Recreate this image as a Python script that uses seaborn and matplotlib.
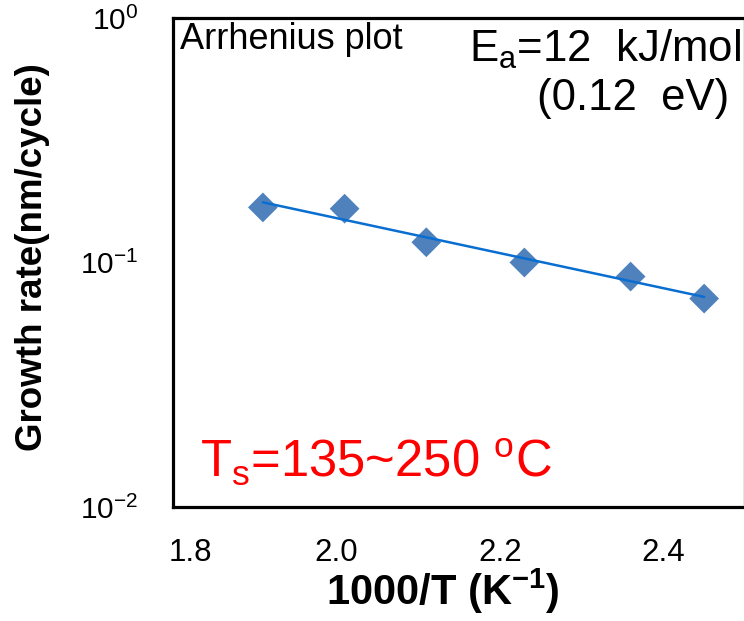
import numpy as np
import pandas as pd
import matplotlib
matplotlib.use("Agg")
import matplotlib.pyplot as plt
import matplotlib.transforms as mtransforms
import seaborn as sns
from matplotlib.ticker import NullLocator

# Growth rate vs reciprocal substrate temperature (Ts = 250 ... 135 C)
inv_temp = [1.91, 2.01, 2.11, 2.23, 2.36, 2.45]             # 1000/T (K^-1)
growth_rate = [0.168, 0.166, 0.121, 0.100, 0.0876, 0.0712]  # nm/cycle
x_ticks = [1.8, 2.0, 2.2, 2.4]
x_tick_labels = ["1.8", "2.0", "2.2", "2.4"]
y_ticks = [1e-2, 1e-1, 1e0]

sns.set_style("white")
plt.rcParams["font.family"] = ["Liberation Sans", "DejaVu Sans"]
plt.rcParams["mathtext.fontset"] = "custom"
plt.rcParams["mathtext.rm"] = "Liberation Sans"
plt.rcParams["mathtext.it"] = "Liberation Sans:italic"
plt.rcParams["mathtext.bf"] = "Liberation Sans:bold"
for key in ["text.color", "axes.labelcolor", "xtick.color", "ytick.color"]:
    plt.rcParams[key] = "black"

df = pd.DataFrame({"x": inv_temp, "y": growth_rate})

# Arrhenius fit: ln(rate) is linear in 1000/T
slope, intercept = np.polyfit(df["x"], np.log(df["y"]), 1)
fit = pd.DataFrame({"x": [df["x"].min(), df["x"].max()]})
fit["y"] = np.exp(intercept + slope * fit["x"])

W, H = 744, 621
fig = plt.figure(figsize=(W / 100, H / 100), dpi=100)
left, right, top, bottom = 173, 745, 18, 507
ax = fig.add_axes([left / W, 1 - bottom / H, (right - left) / W, (bottom - top) / H])

sns.scatterplot(data=df, x="x", y="y", marker="D", s=230, color="#4F81BD",
                edgecolor="none", linewidth=0, ax=ax, zorder=2)
sns.lineplot(data=fit, x="x", y="y", color="#0A6ED1", linewidth=1.8, ax=ax, zorder=3)

ax.set_yscale("log")
ax.set_xlim(1.8, 2.5)
ax.set_ylim(1e-2, 1e0)
ax.set_xticks(x_ticks)
ax.set_xticklabels(x_tick_labels)
ax.set_yticks(y_ticks)
ax.yaxis.set_minor_locator(NullLocator())

ax.tick_params(axis="both", direction="in")
ax.tick_params(axis="x", length=7, width=1.2, pad=22, labelsize=22.5)
ax.tick_params(axis="y", length=7, width=2.0, pad=25, labelsize=21.5)
for side in ["left", "right", "top", "bottom"]:
    ax.spines[side].set_visible(True)
    ax.spines[side].set_linewidth(2.3)
    ax.spines[side].set_color("black")

# first x label sits a little right of the axis corner
first = ax.get_xticklabels()[0]
first.set_transform(first.get_transform()
                    + mtransforms.ScaledTranslation(17 / 100, 0, fig.dpi_scale_trans))

ax.set_xlabel(r"1000/T (K$^{\mathbf{-1}}$)", fontsize=30, fontweight="bold")
ax.set_ylabel("Growth rate(nm/cycle)", fontsize=26.5, fontweight="bold")
ax.xaxis.set_label_coords(0.472, -0.121)
ax.xaxis.label.set_va("top")
ax.yaxis.set_label_coords(-0.215, 0.512)

ax.text(0.012, 0.937, "Arrhenius plot", transform=ax.transAxes,
        fontsize=26, ha="left", va="baseline")
ax.text(0.993, 0.910, r"E$_\mathregular{a}$=12  kJ/mol", transform=ax.transAxes,
        fontsize=31.5, ha="right", va="baseline")
ax.text(0.972, 0.812, "(0.12  eV)", transform=ax.transAxes,
        fontsize=31.5, ha="right", va="baseline")
ax.text(0.047, 0.0613, r"T$_\mathregular{s}$=135~250 $^\mathregular{o}$C",
        transform=ax.transAxes, fontsize=36.5, color="#FF0000",
        ha="left", va="baseline")

fig.savefig("out.png", dpi=100)
